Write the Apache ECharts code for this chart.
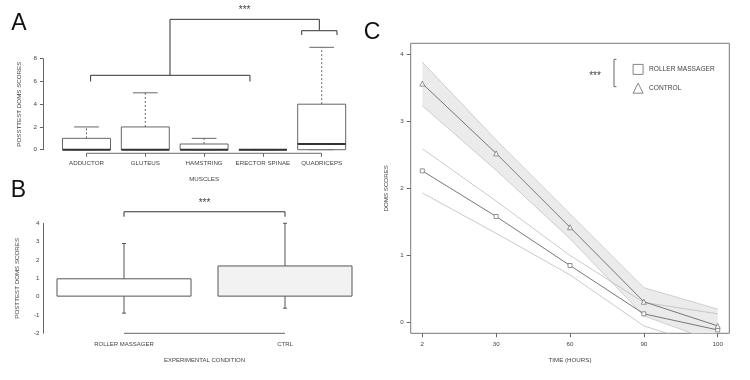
<!DOCTYPE html>
<html>
<head>
<meta charset="utf-8">
<script src="https://cdn.jsdelivr.net/npm/echarts@6/dist/echarts.min.js"></script>
<style>
  html, body { margin: 0; padding: 0; background: #fff; }
  #chart { width: 750px; height: 380px; }
</style>
</head>
<body>
<div id="chart"></div>
<script>
// panel A - posttest DOMS by muscle (boxplot)
const muscles = ["ADDUCTOR", "GLUTEUS", "HAMSTRING", "ERECTOR SPINAE", "QUADRICEPS"];
const boxMin = [0, 0, 0, 0, 0];
const boxQ1 = [0, 0, 0, 0, 0];
const boxMedian = [0, 0, 0, 0, 0.5];
const boxQ3 = [1, 2, 0.5, 0, 4];
const boxMax = [2, 5, 1, 0, 9];

// panel B - posttest DOMS by condition (mean + range)
const conditions = ["ROLLER MASSAGER", "CTRL"];
const condMean = [1, 1.7];
const condLow = [-0.9, -0.63];
const condHigh = [2.9, 4];

// panel C - DOMS over time
const hours = ["2", "30", "60", "90", "100"];
const rollerMean = [2.26, 1.58, 0.85, 0.13, -0.11];
const rollerUpper = [2.59, 1.81, 1.0, 0.3, 0.13];
const rollerLower = [1.93, 1.33, 0.71, -0.05, -0.4];
const controlMean = [3.56, 2.52, 1.42, 0.31, -0.05];
const controlUpper = [3.88, 2.72, 1.62, 0.52, 0.2];
const controlLower = [3.23, 2.27, 1.25, 0.1, -0.3];

const ink = "#444";
const frame = "#666";
const font = "Liberation Sans, Arial, sans-serif";

const chart = echarts.init(document.getElementById("chart"));

// helper: polyline in data coords
function pline(api, pts, extra) {
  return {
    type: "polyline",
    shape: { points: pts.map((p) => api.coord(p)) },
    style: Object.assign({ stroke: frame, lineWidth: 1, fill: null }, extra || {})
  };
}
function stars(x, y) {
  return {
    type: "text", x: x, y: y,
    style: { text: "***", fontSize: 10, fontFamily: font, fill: ink, textAlign: "center", textVerticalAlign: "middle" }
  };
}

const smallLabel = { fontSize: 6.2, color: ink, fontFamily: font };

const option = {
  animation: false,
  textStyle: { fontFamily: font },
  grid: [
    { left: 43, top: 58.7, width: 322.2, height: 91 },
    { left: 43.5, top: 223.3, width: 322, height: 110 },
    { left: 410.7, top: 43.3, width: 318.6, height: 290, show: true, borderColor: "#777", borderWidth: 1 }
  ],
  xAxis: [
    {
      gridIndex: 0, type: "value", min: 0.26, max: 5.74, offset: 3.6,
      splitLine: { show: false }, axisLine: { show: false, onZero: false },
      axisTick: { length: 3.5, customValues: [1, 2, 3, 4, 5], lineStyle: { color: frame } },
      axisLabel: Object.assign({ customValues: [1, 2, 3, 4, 5], margin: 7, formatter: (v) => muscles[Math.round(v) - 1] }, smallLabel),
      name: "MUSCLES", nameLocation: "middle", nameGap: 23, nameTextStyle: smallLabel
    },
    {
      gridIndex: 1, type: "category", data: conditions, boundaryGap: true,
      axisLine: { show: false, onZero: false },
      axisTick: { alignWithLabel: true, length: 3, lineStyle: { color: frame } },
      axisLabel: Object.assign({ margin: 8 }, smallLabel, { fontSize: 6 }),
      name: "EXPERIMENTAL CONDITION", nameLocation: "middle", nameGap: 24,
      nameTextStyle: Object.assign({}, smallLabel, { fontSize: 6 })
    },
    {
      gridIndex: 2, type: "value", min: -0.157, max: 4.157,
      splitLine: { show: false }, axisLine: { show: false, onZero: false },
      axisTick: { length: 4, customValues: [0, 1, 2, 3, 4], lineStyle: { color: frame } },
      axisLabel: Object.assign({ customValues: [0, 1, 2, 3, 4], margin: 8, formatter: (v) => hours[Math.round(v)] }, smallLabel),
      name: "TIME (HOURS)", nameLocation: "middle", nameGap: 24, nameTextStyle: smallLabel
    }
  ],
  yAxis: [
    {
      gridIndex: 0, type: "value", min: 0, max: 8, interval: 2,
      splitLine: { show: false },
      axisLine: { show: true, onZero: false, lineStyle: { color: frame } },
      axisTick: { length: 3, lineStyle: { color: frame } },
      axisLabel: Object.assign({ margin: 6 }, smallLabel),
      name: "POSSTTEST DOMS SCORES", nameLocation: "middle", nameGap: 21, nameTextStyle: smallLabel
    },
    {
      gridIndex: 1, type: "value", min: -2, max: 4, interval: 1,
      splitLine: { show: false },
      axisLine: { show: true, onZero: false, lineStyle: { color: frame } },
      axisTick: { length: 2.5, lineStyle: { color: frame } },
      axisLabel: Object.assign({ margin: 4 }, smallLabel),
      name: "POSTTEST DOMS SCORES", nameLocation: "middle", nameGap: 23, nameTextStyle: smallLabel
    },
    {
      gridIndex: 2, type: "value", min: -0.16, max: 4.16,
      splitLine: { show: false }, axisLine: { show: false, onZero: false },
      axisTick: { length: 4, customValues: [0, 1, 2, 3, 4], lineStyle: { color: frame } },
      axisLabel: Object.assign({ customValues: [0, 1, 2, 3, 4], margin: 7 }, smallLabel),
      name: "DOMS SCORES", nameLocation: "middle", nameGap: 21, nameTextStyle: smallLabel
    }
  ],
  legend: {
    orient: "vertical", left: 627.7, top: 59, itemWidth: 10, itemHeight: 10, itemGap: 8,
    selectedMode: false,
    textStyle: { fontSize: 6.6, color: ink, fontFamily: font, padding: [0, 0, 0, 1] },
    data: [
      { name: "ROLLER MASSAGER", icon: "rect", itemStyle: { color: "#fff", borderColor: frame, borderWidth: 0.8 } },
      { name: "CONTROL", icon: "triangle", itemStyle: { color: "#fff", borderColor: frame, borderWidth: 0.8 } }
    ]
  },
  graphic: [
    { type: "text", x: 19, y: 24, style: { text: "A", fontSize: 23, fontFamily: font, fill: "#111", textAlign: "center", textVerticalAlign: "middle" } },
    { type: "text", x: 18.5, y: 191, style: { text: "B", fontSize: 23, fontFamily: font, fill: "#111", textAlign: "center", textVerticalAlign: "middle" } },
    { type: "text", x: 372, y: 33, style: { text: "C", fontSize: 23, fontFamily: font, fill: "#111", textAlign: "center", textVerticalAlign: "middle" } },
    { type: "polyline", shape: { points: [[616.5, 59.3], [614, 59.3], [614, 86.7], [616.5, 86.7]] }, style: { stroke: frame, lineWidth: 1, fill: null } },
    { type: "text", x: 595, y: 76, style: { text: "***", fontSize: 10, fontFamily: font, fill: ink, textAlign: "center", textVerticalAlign: "middle" } }
  ],
  series: [
    // A: boxes
    {
      type: "custom", xAxisIndex: 0, yAxisIndex: 0,
      data: muscles.map((m, i) => [i + 1, boxMin[i], boxQ1[i], boxMedian[i], boxQ3[i], boxMax[i]]),
      encode: { x: 0, y: [1, 2, 3, 4, 5] },
      renderItem: function (params, api) {
        const x = api.value(0);
        const half = 0.408, cap = 0.21;
        const lo = api.value(1), q1 = api.value(2), med = api.value(3), q3 = api.value(4), hi = api.value(5);
        const tl = api.coord([x - half, q3]);
        const br = api.coord([x + half, q1]);
        const dash = { lineDash: [2, 2] };
        return {
          type: "group",
          children: [
            pline(api, [[x, q3], [x, hi]], dash),
            pline(api, [[x, q1], [x, lo]], dash),
            pline(api, [[x - cap, hi], [x + cap, hi]]),
            pline(api, [[x - cap, lo], [x + cap, lo]]),
            {
              type: "rect",
              shape: { x: tl[0], y: tl[1], width: br[0] - tl[0], height: br[1] - tl[1] },
              style: { fill: "#fff", stroke: frame, lineWidth: 1 }
            },
            pline(api, [[x - half, med], [x + half, med]], { stroke: "#333", lineWidth: 2 })
          ]
        };
      }
    },
    // A: axis line + significance brackets
    {
      type: "custom", xAxisIndex: 0, yAxisIndex: 0, data: [0],
      renderItem: function (params, api) {
        const top = api.coord([3.69, 11.46]);
        return {
          type: "group",
          children: [
            pline(api, [[1, -0.316], [5, -0.316]]),
            pline(api, [[1.07, 6.0], [1.07, 6.54], [3.78, 6.54], [3.78, 6.0]], { stroke: "#333" }),
            pline(api, [[2.42, 6.54], [2.42, 11.46], [4.96, 11.46], [4.96, 10.52]], { stroke: "#333" }),
            pline(api, [[4.66, 10.08], [4.66, 10.46], [5.26, 10.46], [5.26, 10.08]], { stroke: "#333" }),
            stars(top[0], top[1] - 9.5)
          ]
        };
      }
    },
    // B: bars
    {
      type: "bar", xAxisIndex: 1, yAxisIndex: 1, barWidth: 135,
      data: condMean,
      itemStyle: { color: (p) => (p.dataIndex ? "#f2f2f2" : "#fff"), borderColor: "#555", borderWidth: 1 }
    },
    // B: error bars
    {
      type: "custom", xAxisIndex: 1, yAxisIndex: 1,
      data: conditions.map((c, i) => [i, condLow[i], condHigh[i]]),
      encode: { x: 0, y: [1, 2] },
      renderItem: function (params, api) {
        const lo = api.coord([api.value(0), api.value(1)]);
        const hi = api.coord([api.value(0), api.value(2)]);
        const st = { stroke: "#555", lineWidth: 1 };
        return {
          type: "group",
          children: [
            { type: "line", shape: { x1: lo[0], y1: lo[1], x2: hi[0], y2: hi[1] }, style: st },
            { type: "line", shape: { x1: lo[0] - 2, y1: lo[1], x2: lo[0] + 2, y2: lo[1] }, style: st },
            { type: "line", shape: { x1: hi[0] - 2, y1: hi[1], x2: hi[0] + 2, y2: hi[1] }, style: st }
          ]
        };
      }
    },
    // B: axis line + bracket
    {
      type: "custom", xAxisIndex: 1, yAxisIndex: 1, data: [0],
      renderItem: function (params, api) {
        const a = api.coord([0, 4.63]);
        const b = api.coord([1, 4.63]);
        return {
          type: "group",
          children: [
            pline(api, [[0, -2], [1, -2]]),
            pline(api, [[0, 4.36], [0, 4.63], [1, 4.63], [1, 4.36]], { stroke: "#333" }),
            stars((a[0] + b[0]) / 2, a[1] - 8.5)
          ]
        };
      }
    },
    // C: control band
    {
      type: "custom", xAxisIndex: 2, yAxisIndex: 2, data: [0], clip: true, silent: true,
      renderItem: function (params, api) {
        const up = controlUpper.map((v, i) => api.coord([i, v]));
        const dn = controlLower.map((v, i) => api.coord([i, v])).reverse();
        return { type: "polygon", shape: { points: up.concat(dn) }, style: { fill: "#ebebeb", stroke: null } };
      }
    },
    {
      name: "ctrlUpper", type: "line", xAxisIndex: 2, yAxisIndex: 2, symbol: "none",
      data: controlUpper.map((v, i) => [i, v]), lineStyle: { color: "#c4c4c4", width: 0.8 }
    },
    {
      name: "ctrlLower", type: "line", xAxisIndex: 2, yAxisIndex: 2, symbol: "none",
      data: controlLower.map((v, i) => [i, v]), lineStyle: { color: "#c4c4c4", width: 0.8 }
    },
    {
      name: "rollerUpper", type: "line", xAxisIndex: 2, yAxisIndex: 2, symbol: "none",
      data: rollerUpper.map((v, i) => [i, v]), lineStyle: { color: "#bdbdbd", width: 0.8 }
    },
    {
      name: "rollerLower", type: "line", xAxisIndex: 2, yAxisIndex: 2, symbol: "none",
      data: rollerLower.map((v, i) => [i, v]), lineStyle: { color: "#bdbdbd", width: 0.8 }
    },
    {
      name: "ROLLER MASSAGER", type: "line", xAxisIndex: 2, yAxisIndex: 2,
      symbol: "rect", symbolSize: 4, showSymbol: true,
      data: rollerMean.map((v, i) => [i, v]),
      lineStyle: { color: "#777", width: 1 },
      itemStyle: { color: "#fff", borderColor: "#777", borderWidth: 0.8 }
    },
    {
      name: "CONTROL", type: "line", xAxisIndex: 2, yAxisIndex: 2,
      symbol: "triangle", symbolSize: 5, showSymbol: true,
      data: controlMean.map((v, i) => [i, v]),
      lineStyle: { color: "#777", width: 1 },
      itemStyle: { color: "#fff", borderColor: "#777", borderWidth: 0.8 }
    }
  ]
};

chart.setOption(option);
window.addEventListener("resize", () => chart.resize());
</script>
</body>
</html>
